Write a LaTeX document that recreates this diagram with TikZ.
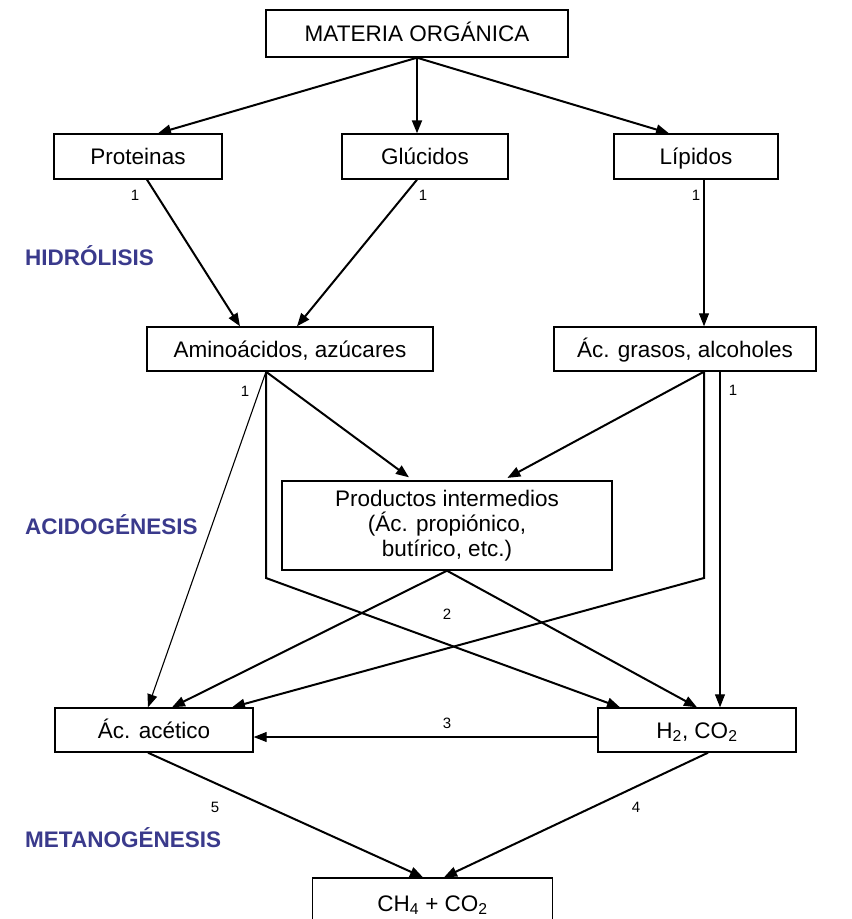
\documentclass[tikz,border=0pt]{standalone}
\usepackage{fontspec}
\setmainfont{Liberation Sans}
\usetikzlibrary{arrows.meta}
\definecolor{phasecol}{RGB}{58,58,140}
\tikzset{
  caja/.style = {draw, line width = 1.4pt, inner sep = 0pt,
                 font = \fontsize{22.5}{25}\selectfont, align = center},
  linea/.style = {text height = 16pt, text depth = 0pt},
  flecha/.style = {-{Triangle[length = 13pt, width = 10pt]}, line width = 2pt},
  fina/.style = {-{Triangle[length = 13pt, width = 10pt]}, line width = 1.1pt},
  num/.style = {font = \fontsize{15}{17}\selectfont},
  fase/.style = {anchor = west, inner sep = 0pt, text = phasecol,
                 font = \fontsize{22.5}{25}\selectfont\bfseries}
}
\begin{document}
\begin{tikzpicture}[x = 1pt, y = -1pt]
      \clip (0,0) rectangle (852,919);
      \useasboundingbox (0,0) rectangle (852,919);
      \node [caja, linea, minimum width = 302pt, minimum height = 47pt]
        (mat) at (417,33.5) {MATERIA ORGÁNICA};
      \node [caja, linea, minimum width = 168pt, minimum height = 45pt]
        (prot) at (138,156.5) {Proteinas};
      \node [caja, linea, minimum width = 166pt, minimum height = 45pt]
        (gluc) at (425,156.5) {Glúcidos};
      \node [caja, linea, minimum width = 164pt, minimum height = 45pt]
        (lip) at (696,156.5) {Lípidos};
      \node [caja, linea, minimum width = 286pt, minimum height = 44pt]
        (amino) at (290,349) {Aminoácidos, azúcares};
      \node [caja, linea, minimum width = 262pt, minimum height = 44pt]
        (acgr) at (685,349) {Ác. grasos, alcoholes};
      \node [caja, minimum width = 330pt, minimum height = 89pt]
        (prod) at (447,525.5) {Productos intermedios\\(Ác. propiónico,\\butírico, etc.)};
      \node [caja, linea, minimum width = 198pt, minimum height = 44pt]
        (acet) at (154,730) {Ác. acético};
      \node [caja, linea, minimum width = 198pt, minimum height = 44pt]
        (h2) at (697,730) {H\textsubscript{2}, CO\textsubscript{2}};
      \node [caja, linea, minimum width = 240pt, minimum height = 50pt]
        (ch4) at (432.5,903) {CH\textsubscript{4} + CO\textsubscript{2}};
      % fases
      \node [fase] (hid) at (25,255.5) {HIDRÓLISIS};
      \node [fase] (acid) at (25,525) {ACIDOGÉNESIS};
      \node [fase] (meta) at (25,838) {METANOGÉNESIS};
      % puntos de salida y quiebres
      \coordinate (amsal) at ([xshift = -24pt]amino.south);
      \coordinate (agsal) at ([xshift = 19pt]acgr.south);
      \coordinate (quiebreA) at (266,578);
      \coordinate (quiebreB) at (704,578);
      % hidrolisis
      \draw [flecha] (mat.south) -- ([xshift = 20pt]prot.north);
      \draw [flecha] (mat.south) -- ([xshift = -8pt]gluc.north);
      \draw [flecha] (mat.south) -- ([xshift = -27pt]lip.north);
      \draw [flecha] ([xshift = 9pt]prot.south) -- ([xshift = -50pt]amino.north);
      \draw [flecha] ([xshift = -8pt]gluc.south) -- ([xshift = 7pt]amino.north);
      \draw [fina] ([xshift = 8pt]lip.south) -- ([xshift = 19pt]acgr.north);
      \node [num] (n1a) at (135,195) {1};
      \node [num] (n1b) at (423,195) {1};
      \node [num] (n1c) at (696,195) {1};
      % acidogenesis
      \draw [fina] (amsal) -- ([xshift = -6pt]acet.north);
      \draw [flecha, shorten > = 5pt] (amsal) -- ([xshift = -34pt]prod.north);
      \draw [flecha] (amsal) -- (quiebreA) -- ([xshift = -77pt]h2.north);
      \draw [flecha, shorten > = 5pt] (agsal) -- ([xshift = 56pt]prod.north);
      \draw [flecha] (agsal) -- (quiebreB) -- ([xshift = 78pt]acet.north);
      \draw [fina] ([xshift = 35pt]acgr.south) -- ([xshift = 23pt]h2.north);
      \draw [flecha] (prod.south) -- ([xshift = 18pt]acet.north);
      \draw [flecha] (prod.south) -- (h2.north);
      \node [num] (n1d) at (245,391) {1};
      \node [num] (n1e) at (733,390) {1};
      \node [num] (n2) at (447,614) {2};
      % metanogenesis
      \draw [fina] ([yshift = -7pt]h2.west) -- ([yshift = -7pt]acet.east);
      \draw [flecha] ([xshift = -6pt]acet.south) -- ([xshift = -9.5pt]ch4.north);
      \draw [flecha] ([xshift = 11pt]h2.south) -- ([xshift = 11.5pt]ch4.north);
      \node [num] (n3) at (447,723) {3};
      \node [num] (n5) at (215,807) {5};
      \node [num] (n4) at (636,807) {4};
    \end{tikzpicture}
\end{document}
